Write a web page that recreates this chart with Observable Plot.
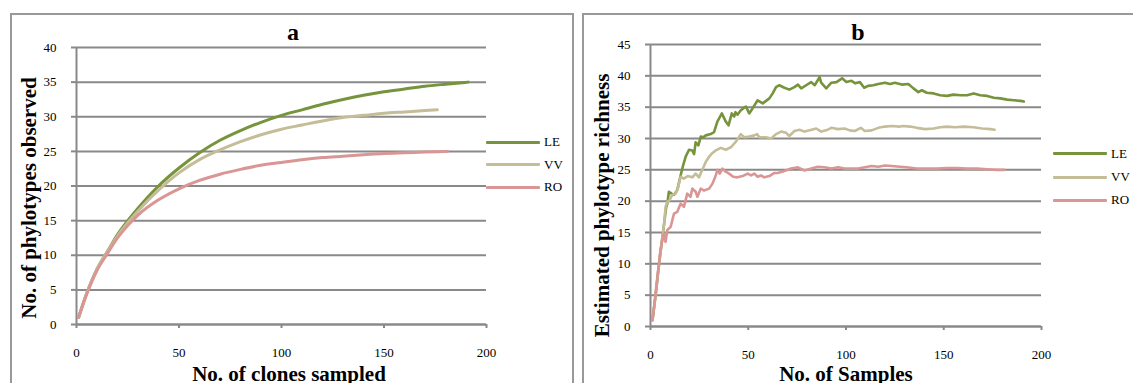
<!DOCTYPE html>
<html>
<head>
<meta charset="utf-8">
<script src="https://cdn.jsdelivr.net/npm/d3@7"></script>
<script src="https://cdn.jsdelivr.net/npm/@observablehq/plot@0.6"></script>
<style>
  html, body { margin: 0; padding: 0; background: #fff; }
  #wrap { position: relative; width: 1133px; height: 383px; overflow: hidden; background: #fff;
          font-family: "Liberation Serif", "Times New Roman", serif; }
  .panel { position: absolute; top: 13px; height: 420px; border: 2px solid #999; box-sizing: border-box; }
  .plotbox { position: absolute; top: 0; }
  .leg { position: absolute; height: 0; }
  .leg .ln { position: absolute; height: 3px; border-radius: 1px; }
  .leg .lb { position: absolute; font-family: "Liberation Serif", "Times New Roman", serif; font-size: 13px; line-height: 13px; color: #000; }
</style>
</head>
<body>
<div id="wrap">
  <div class="panel" style="left:10px; width:564px;"></div>
  <div class="panel" style="left:582px; width:600px;"></div>
  <div class="plotbox" id="pa" style="left:0px;"></div>
  <div class="plotbox" id="pb" style="left:575px;"></div>
</div>
<script>
// ---------- data ----------
const seriesNames = ["LE", "VV", "RO"];
const xTicks = [0, 50, 100, 150, 200];
const yTicksA = [0, 5, 10, 15, 20, 25, 30, 35, 40];
const yTicksB = [0, 5, 10, 15, 20, 25, 30, 35, 40, 45];

const titleA = "a";
const titleB = "b";
const xLabelA = "No. of clones sampled";
const yLabelA = "No. of phylotypes observed";
const xLabelB = "No. of Samples";
const yLabelB = "Estimated phylotype richness";

// panel a: rarefaction curves [clones sampled, phylotypes observed]
const rareLE = [[1,1],[5,4.5],[10,8],[15,10.5],[20,13],[25,15],[30,16.8],[40,20],[50,22.6],[60,24.8],[70,26.6],[80,28],[90,29.2],[100,30.2],[110,31],[120,31.8],[130,32.5],[140,33.1],[150,33.6],[160,34],[170,34.4],[180,34.7],[191,35]];
const rareVV = [[1,1],[5,4.5],[10,8],[15,10.5],[20,12.8],[25,14.7],[30,16.4],[40,19.4],[50,21.9],[60,23.8],[70,25.2],[80,26.4],[90,27.4],[100,28.2],[110,28.8],[120,29.4],[130,29.9],[140,30.2],[150,30.5],[160,30.7],[170,30.9],[176,31]];
const rareRO = [[1,1],[5,4.4],[10,7.8],[15,10.2],[20,12.5],[25,14.3],[30,15.8],[40,18],[50,19.6],[60,20.8],[70,21.7],[80,22.4],[90,23],[100,23.4],[110,23.8],[120,24.1],[130,24.3],[140,24.5],[150,24.7],[160,24.8],[170,24.9],[181,25]];

// panel b: estimated richness [samples, estimate]
const estLE = [[1,1],[2,3.5],[3,6],[4,9],[5,11.5],[6,14],[7,16.5],[8,19],[8.6,19.6],[9.4,21.5],[10.8,21.2],[12,21],[13.7,21.8],[15.4,24.1],[16.5,25.5],[18,27.1],[19.7,28.2],[21.4,28.1],[22.3,27.5],[23.1,29.4],[24.5,28.9],[25.7,30.3],[27,30.2],[28.3,30.5],[30.8,30.7],[32.5,31],[34.2,32.7],[36.5,34],[38.5,32.7],[39.9,32.1],[41.6,34],[42.8,33.5],[43.5,34.2],[44.5,33.8],[46.2,34.5],[47.4,34.8],[48.8,35.1],[50.5,34],[52.2,34.8],[54.8,36.1],[57.4,35.6],[60.8,36.4],[62.5,37.2],[64.2,38.2],[65.9,38.5],[68.5,38.1],[71,37.8],[73.6,38.2],[75.4,38.6],[77.1,38],[79.6,38.5],[82.2,39],[84,38.5],[86.5,39.8],[87.3,38.9],[89.9,38],[92.5,38.9],[95.1,39],[98,39.6],[100.2,39],[102.8,39.2],[104.8,38.8],[107.1,39],[109.3,38.1],[111.3,38.4],[113.9,38.5],[116.5,38.7],[119.9,38.9],[122.5,38.7],[125,38.9],[128.5,38.6],[131.9,38.7],[134.5,38],[137,37.4],[138.8,37.7],[141.3,37.3],[144.8,37.2],[148.2,36.9],[151.6,36.8],[155,37],[158.5,36.9],[161.9,36.9],[165.3,37.2],[168.7,36.9],[172.2,36.8],[175.6,36.5],[179,36.4],[182.4,36.2],[185.9,36.1],[189.3,36],[191,35.9]];
const estVV = [[1,1],[2,3.5],[3,6],[4,9],[5,11.5],[6,14],[7,16.5],[7.7,19.1],[8.6,19.9],[9.8,20.2],[11.1,21],[12.8,21.2],[14,22],[15.4,23.9],[17,23.6],[19,24],[21.4,23.8],[23.1,24.4],[24.8,23.8],[26.5,25],[28.3,26.3],[30,27.1],[31.7,27.7],[33.4,28.1],[36,28.5],[38.5,28.2],[41.1,28.6],[43.7,29.5],[46.2,30.7],[47.9,30.2],[50.5,30.3],[53.1,30.5],[54.5,30.7],[55.7,30.2],[59.1,30.2],[61.7,30],[64.2,30.7],[66.8,31.1],[69.4,30.9],[71,30.4],[73.6,31.2],[76.2,31.4],[78.8,31.1],[81.4,31.3],[84.8,31.6],[87.3,31.1],[89.9,31.3],[92.5,31.7],[95.9,31.5],[99.3,31.6],[101.9,31.3],[104.5,31.2],[107.6,31.7],[109.6,31.2],[113.1,31.3],[116.5,31.7],[119.9,31.9],[123.3,32],[127.6,31.9],[129.3,32],[132.8,31.9],[136.2,31.7],[140.5,31.5],[144.8,31.6],[148.2,31.8],[151.6,31.9],[155.9,31.8],[160.2,31.9],[165.3,31.8],[169.6,31.6],[173.9,31.5],[176,31.4]];
const estRO = [[1,1],[2,3.5],[3,6.5],[4.3,10],[5,12],[6,13.8],[6.8,14.8],[7.7,13.5],[8.6,15.4],[10.3,15.9],[12,18],[13.7,18.3],[15.4,19.6],[17.1,19.1],[18.8,21.2],[20.5,20.7],[21.4,22],[23.1,21.5],[24,20.7],[25.7,22],[27.4,21.7],[30,22],[31.7,22.8],[33.4,24.1],[34.2,25],[35.4,24.4],[36.8,25.2],[38.5,24.7],[40.2,24.4],[42.3,23.9],[44.5,23.8],[47.1,24],[49.7,24.4],[51.4,24.1],[53.1,24.4],[54.8,23.9],[56.5,24.1],[58.2,23.8],[60.8,24],[63.4,24.5],[65.1,24.5],[68.5,24.8],[71.9,25.2],[75.4,25.4],[78.8,24.9],[82.2,25.2],[85.6,25.5],[89,25.4],[92.5,25.2],[95.9,25.4],[99.3,25.2],[102.8,25.2],[106.2,25.2],[109.6,25.4],[113.1,25.6],[116.5,25.5],[119.9,25.7],[123.3,25.6],[127.6,25.5],[131,25.4],[136.2,25.2],[141.3,25.2],[146.5,25.2],[151.6,25.3],[156.8,25.3],[161.9,25.2],[167,25.2],[172.2,25.1],[177.3,25],[181,25]];

// ---------- styles ----------
const seriesColors = ["#77933C", "#C4BD97", "#D99694"];
const gridColor = "#898989";
const fontFamily = "Liberation Serif, Times New Roman, serif";

function rows(pairs, s) { return pairs.map(([x, y]) => ({series: s, x, y})); }
const dataA = [...rows(rareLE, "LE"), ...rows(rareVV, "VV"), ...rows(rareRO, "RO")];
const dataB = [...rows(estLE, "LE"), ...rows(estVV, "VV"), ...rows(estRO, "RO")];

function makePanel(o) {
  const bold = {fontWeight: "bold", fontFamily, fill: "#000", textAnchor: "middle", lineAnchor: "middle"};
  return Plot.plot({
    width: o.width, height: 383,
    marginLeft: o.ml, marginRight: o.mr, marginTop: o.mt, marginBottom: o.mb,
    style: {background: "transparent", fontFamily, fontSize: "13px", color: "#000", overflow: "visible"},
    x: {domain: [0, 200]},
    y: {domain: o.yDomain},
    color: {domain: seriesNames, range: seriesColors},
    marks: [
      Plot.gridY(o.yTicks, {stroke: gridColor, strokeOpacity: 1, strokeWidth: 2}),
      Plot.axisY(o.yTicks, {tickSize: 5, tickPadding: 15, stroke: gridColor, strokeWidth: 2, label: null, fontSize: 13, fontFamily, fill: "#000"}),
      Plot.axisX(xTicks, {tickSize: 4, tickPadding: 19, stroke: gridColor, strokeWidth: 2, label: null, fontSize: 13, fontFamily, fill: "#000"}),
      Plot.ruleX([0], {stroke: gridColor, strokeWidth: 2}),
      Plot.ruleY([0], {stroke: gridColor, strokeWidth: 2}),
      Plot.line(o.data, {x: "x", y: "y", z: "series", stroke: "series", strokeWidth: o.sw, curve: o.curve, strokeLinejoin: "round"}),
      Plot.text([o.title], {...bold, frameAnchor: "top", dx: o.tdx, dy: o.tdy, fontSize: 24}),
      Plot.text([o.xLabel], {...bold, frameAnchor: "bottom", dx: o.xdx, dy: o.xdy, fontSize: 21}),
      Plot.text([o.yLabel], {...bold, frameAnchor: "left", rotate: -90, dx: o.ydx, dy: o.ydy, fontSize: 21})
    ]
  });
}

document.getElementById("pa").appendChild(makePanel({
  width: 575, ml: 76, mr: 89, mt: 47, mb: 59, yDomain: [0, 40], yTicks: yTicksA,
  data: dataA, sw: 3, curve: "monotone-x",
  title: titleA, tdx: 11.5, tdy: -15,
  xLabel: xLabelA, xdx: 7.5, xdy: 50,
  yLabel: yLabelA, ydx: -47, ydy: 12
}));
document.getElementById("pb").appendChild(makePanel({
  width: 558, ml: 75, mr: 92, mt: 44, mb: 57, yDomain: [0, 45], yTicks: yTicksB,
  data: dataB, sw: 2.6, curve: "linear",
  title: titleB, tdx: 12, tdy: -12,
  xLabel: xLabelB, xdx: 0, xdy: 48,
  yLabel: yLabelB, ydx: -48, ydy: 20
}));

// ---------- legends ----------
function legend(left, tops) {
  const wrap = document.getElementById("wrap");
  seriesNames.forEach((s, i) => {
    const d = document.createElement("div");
    d.className = "leg";
    d.style.left = left + "px";
    d.style.top = tops[i] + "px";
    const ln = document.createElement("div");
    ln.className = "ln";
    ln.style.left = "0px"; ln.style.top = "-1.5px"; ln.style.width = "54px";
    ln.style.background = seriesColors[i];
    const lb = document.createElement("div");
    lb.className = "lb";
    lb.style.left = "58px"; lb.style.top = "-7px";
    lb.textContent = s;
    d.appendChild(ln); d.appendChild(lb);
    wrap.appendChild(d);
  });
}
legend(486, [142, 164.5, 187]);
legend(1053, [153.5, 177, 200]);
</script>
</body>
</html>
